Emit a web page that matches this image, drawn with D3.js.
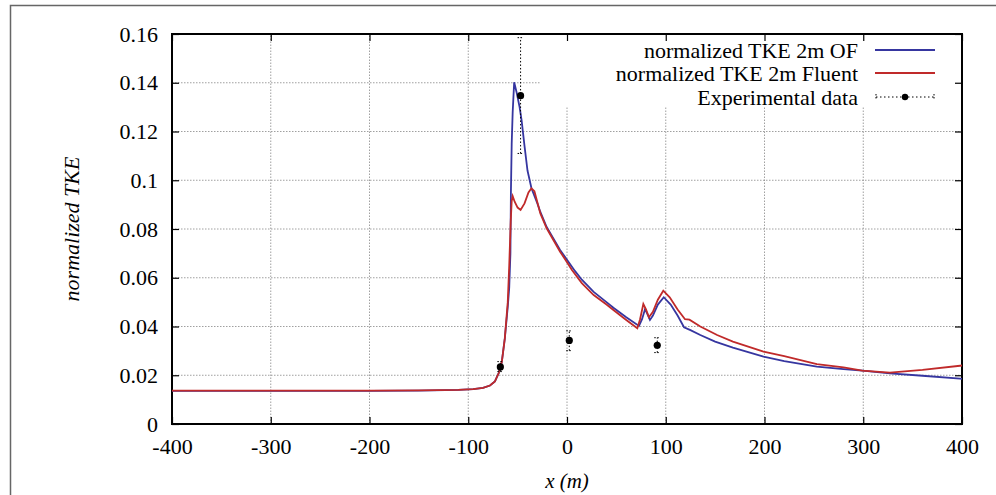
<!DOCTYPE html>
<html>
<head>
<meta charset="utf-8">
<script src="https://cdn.jsdelivr.net/npm/d3@7"></script>
<style>
  body { margin: 0; background: #fff; }
  text { font-family: "Liberation Serif", "Times New Roman", serif; }
</style>
</head>
<body>
<div id="chart"></div>
<script>
// series values
const xOF = [-400, -300, -200, -150, -110, -95, -85, -78, -73, -69, -66, -63, -60, -58.5, -57.3, -56.8, -56, -55, -53.5, -51, -48, -46, -43, -40, -36, -30, -27, -20.6, -7, 0, 8, 15, 27, 40, 47, 60, 72.9, 76, 79, 81, 84, 87, 92, 98, 105, 112, 118.5, 125, 135, 150, 168, 199, 220, 253, 280, 299, 327, 360, 398, 400];
const yOF = [0.0136, 0.0136, 0.0136, 0.0137, 0.0140, 0.0143, 0.0148, 0.0158, 0.0175, 0.0210, 0.0255, 0.0350, 0.0480, 0.0560, 0.0700, 0.0950, 0.1150, 0.1280, 0.1402, 0.1360, 0.1300, 0.1247, 0.1140, 0.1040, 0.0967, 0.0905, 0.0870, 0.0808, 0.0714, 0.0674, 0.0628, 0.0592, 0.0542, 0.0500, 0.0477, 0.0438, 0.0402, 0.0430, 0.0471, 0.0455, 0.0427, 0.0445, 0.0490, 0.0520, 0.0490, 0.0445, 0.0397, 0.0385, 0.0365, 0.0338, 0.0313, 0.0276, 0.0258, 0.0235, 0.0225, 0.0219, 0.0208, 0.0198, 0.0186, 0.0185];

const xFluent = [-400, -300, -200, -150, -110, -95, -85, -78, -73, -69, -66, -63, -60, -58.5, -57, -56, -55, -53, -50, -47, -43, -39, -36, -33, -27, -20.6, -7, 0, 5, 15, 27, 40, 47, 60, 71.2, 74, 77.3, 80, 83, 87, 92, 97.5, 104, 112, 119.5, 124, 135, 152, 168, 199, 220, 253, 280, 299, 327, 360, 398, 400];
const yFluent = [0.0137, 0.0137, 0.0137, 0.0138, 0.0140, 0.0143, 0.0148, 0.0158, 0.0175, 0.0210, 0.0255, 0.0350, 0.0500, 0.0650, 0.0830, 0.0915, 0.0935, 0.0912, 0.0888, 0.0878, 0.0905, 0.0950, 0.0967, 0.0955, 0.0864, 0.0803, 0.0707, 0.0664, 0.0632, 0.0578, 0.0529, 0.0490, 0.0468, 0.0427, 0.0393, 0.0430, 0.0492, 0.0470, 0.0438, 0.0460, 0.0510, 0.0547, 0.0520, 0.0470, 0.0430, 0.0428, 0.0400, 0.0365, 0.0338, 0.0297, 0.0278, 0.0246, 0.0232, 0.0219, 0.0211, 0.0222, 0.0239, 0.0240];

const expX = [-67.5, -47, 2.3, 91.4];
const expY = [0.0234, 0.1347, 0.0343, 0.0323];
const expLo = [0.0215, 0.111, 0.0301, 0.0293];
const expHi = [0.0256, 0.1585, 0.0382, 0.0354];

const xTicks = [-400, -300, -200, -100, 0, 100, 200, 300, 400];
const yTicks = [0, 0.02, 0.04, 0.06, 0.08, 0.1, 0.12, 0.14, 0.16];
const legendLabels = ["normalized TKE 2m OF", "normalized TKE 2m Fluent", "Experimental data"];

const width = 996, height = 495;
const margin = { left: 172, right: 34, top: 34, bottom: 71 };
const blue = "#3636a0", red = "#c02a2a";

const svg = d3.select("#chart").append("svg")
  .attr("width", width)
  .attr("height", height);

// outer frame (left and top edges only visible)
svg.append("path")
  .attr("d", `M10.5,${height} V5.5 H${width}`)
  .attr("fill", "none")
  .attr("stroke", "#666")
  .attr("stroke-width", 1.5);

const x = d3.scaleLinear().domain([-400, 400]).range([margin.left, width - margin.right]);
const y = d3.scaleLinear().domain([0, 0.16]).range([height - margin.bottom, margin.top]);

// grid
const grid = svg.append("g");
grid.selectAll(".vg").data(xTicks.slice(1, -1)).enter().append("line")
  .attr("x1", d => x(d)).attr("x2", d => x(d))
  .attr("y1", y(0)).attr("y2", y(0.16))
  .attr("stroke", "#888").attr("stroke-width", 0.8).attr("stroke-dasharray", "1.5,1.5");
grid.selectAll(".hg").data(yTicks.slice(1, -1)).enter().append("line")
  .attr("x1", x(-400)).attr("x2", x(400))
  .attr("y1", d => y(d)).attr("y2", d => y(d))
  .attr("stroke", "#888").attr("stroke-width", 0.8).attr("stroke-dasharray", "1.5,1.5");

// opaque key box
svg.append("rect")
  .attr("x", 540).attr("y", y(0.16))
  .attr("width", x(400) - 540).attr("height", 107 - y(0.16))
  .attr("fill", "#fff");

// axes with mirrored inward ticks, plain hyphen minus like gnuplot
const fmtX = d => String(d);
const fmtY = d => d === 0 ? "0" : String(+d.toFixed(2));
const tl = 7;
svg.append("g")
  .attr("transform", `translate(0,${y(0)})`)
  .call(d3.axisBottom(x).tickValues(xTicks).tickSize(-tl).tickPadding(14).tickFormat(fmtX));
svg.append("g")
  .attr("transform", `translate(0,${y(0.16)})`)
  .call(d3.axisTop(x).tickValues(xTicks).tickSize(-tl).tickFormat(""));
svg.append("g")
  .attr("transform", `translate(${x(-400)},0)`)
  .call(d3.axisLeft(y).tickValues(yTicks).tickSize(-tl).tickPadding(14).tickFormat(fmtY));
svg.append("g")
  .attr("transform", `translate(${x(400)},0)`)
  .call(d3.axisRight(y).tickValues(yTicks).tickSize(-tl).tickFormat(""));

svg.selectAll(".domain").attr("stroke", "none");
svg.selectAll(".tick line").attr("stroke", "#000").attr("stroke-width", 1.2);
svg.selectAll(".tick text").attr("font-size", 22).attr("fill", "#000");

// border
svg.append("rect")
  .attr("x", x(-400)).attr("y", y(0.16))
  .attr("width", x(400) - x(-400)).attr("height", y(0) - y(0.16))
  .attr("fill", "none").attr("stroke", "#000").attr("stroke-width", 2);

// axis titles
svg.append("text")
  .attr("x", x(0)).attr("y", 488)
  .attr("text-anchor", "middle").attr("font-size", 21).attr("font-style", "italic")
  .text("x (m)");
svg.append("text")
  .attr("transform", `translate(79,${(y(0) + y(0.16)) / 2}) rotate(-90)`)
  .attr("text-anchor", "middle").attr("font-size", 22).attr("font-style", "italic")
  .text("normalized TKE");

// curves
const line = d3.line().x(d => x(d[0])).y(d => y(d[1]));
svg.append("clipPath").attr("id", "plotclip").append("rect")
  .attr("x", x(-400)).attr("y", y(0.16))
  .attr("width", x(400) - x(-400)).attr("height", y(0) - y(0.16));

const plot = svg.append("g").attr("clip-path", "url(#plotclip)");
plot.append("path")
  .datum(d3.zip(xOF, yOF))
  .attr("d", line)
  .attr("fill", "none").attr("stroke", blue).attr("stroke-width", 1.8);
plot.append("path")
  .datum(d3.zip(xFluent, yFluent))
  .attr("d", line)
  .attr("fill", "none").attr("stroke", red).attr("stroke-width", 1.8);

// experimental data with error bars
const expData = expX.map((d, i) => ({ x: d, y: expY[i], lo: expLo[i], hi: expHi[i] }));
const eb = plot.selectAll(".eb").data(expData).enter().append("g");
eb.append("line")
  .attr("x1", d => x(d.x)).attr("x2", d => x(d.x))
  .attr("y1", d => y(d.lo)).attr("y2", d => y(d.hi))
  .attr("stroke", "#000").attr("stroke-width", 1).attr("stroke-dasharray", "1.5,2");
eb.selectAll(".cap").data(d => [[d.x, d.lo], [d.x, d.hi]]).enter().append("line")
  .attr("x1", d => x(d[0]) - 3).attr("x2", d => x(d[0]) + 3)
  .attr("y1", d => y(d[1])).attr("y2", d => y(d[1]))
  .attr("stroke", "#000").attr("stroke-width", 1).attr("stroke-dasharray", "1.5,1.5");
eb.append("circle")
  .attr("cx", d => x(d.x)).attr("cy", d => y(d.y))
  .attr("r", 3.6).attr("fill", "#000");

// legend
const legendY = [50, 73, 97];
const legend = svg.append("g");
legend.selectAll("text").data(legendLabels).enter().append("text")
  .attr("x", 858).attr("y", (d, i) => legendY[i])
  .attr("dy", "0.35em")
  .attr("text-anchor", "end").attr("font-size", 22)
  .text(d => d);
legend.append("line")
  .attr("x1", 875).attr("x2", 935).attr("y1", legendY[0]).attr("y2", legendY[0])
  .attr("stroke", blue).attr("stroke-width", 1.8);
legend.append("line")
  .attr("x1", 875).attr("x2", 935).attr("y1", legendY[1]).attr("y2", legendY[1])
  .attr("stroke", red).attr("stroke-width", 1.8);
legend.append("line")
  .attr("x1", 876).attr("x2", 934).attr("y1", legendY[2]).attr("y2", legendY[2])
  .attr("stroke", "#000").attr("stroke-width", 1).attr("stroke-dasharray", "1.5,2.5");
legend.selectAll(".lcap").data([876, 934]).enter().append("line")
  .attr("x1", d => d).attr("x2", d => d)
  .attr("y1", legendY[2] - 3).attr("y2", legendY[2] + 3)
  .attr("stroke", "#000").attr("stroke-width", 1).attr("stroke-dasharray", "1.5,1.5");
legend.append("circle")
  .attr("cx", 905).attr("cy", legendY[2]).attr("r", 3.2).attr("fill", "#000");
</script>
</body>
</html>
